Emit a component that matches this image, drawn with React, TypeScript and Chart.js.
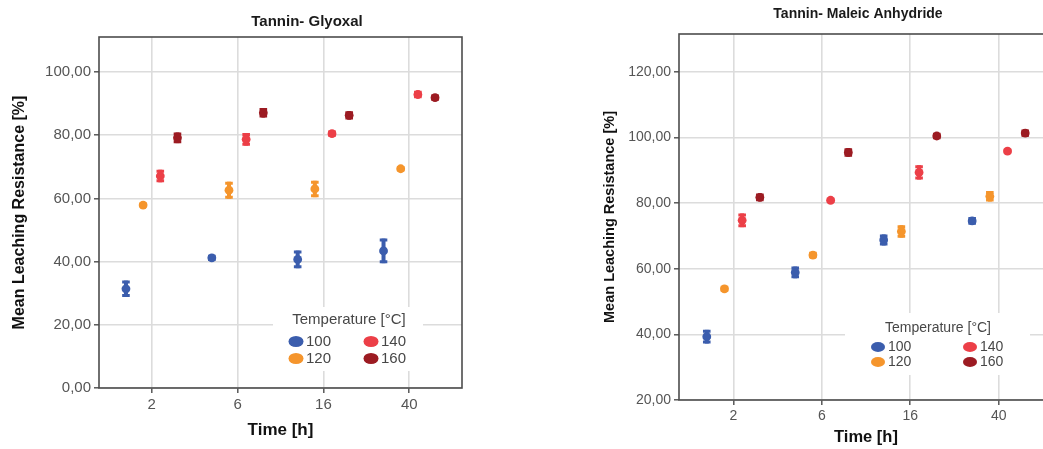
import { useEffect, useRef } from 'react';
import { Chart, registerables } from 'chart.js';
Chart.register(...registerables);

// ---------- data ----------
const timeLabels = ['2', '6', '16', '40'];
const temperatureLabels = ['100', '120', '140', '160'];
const seriesColors = ['#3b5dad', '#f5952c', '#ec3f47', '#9c1b22'];

// Tannin- Glyoxal: mean leaching resistance [%] per time, per temperature
const glyoxal100 = [31.4, 41.2, 40.7, 43.4];
const glyoxal120 = [57.9, 62.6, 63.0, 69.4];
const glyoxal140 = [67.1, 78.7, 80.5, 92.9];
const glyoxal160 = [79.2, 87.1, 86.3, 91.9];
const glyoxal100Err = [2.6, 1.0, 2.8, 3.9];
const glyoxal120Err = [0.8, 2.7, 2.6, 0.9];
const glyoxal140Err = [2.0, 2.0, 1.0, 1.2];
const glyoxal160Err = [1.7, 1.5, 1.3, 1.0];
const glyoxalYTicks = [0, 20, 40, 60, 80, 100];

// Tannin- Maleic Anhydride
const maleic100 = [39.3, 58.9, 68.8, 74.6];
const maleic120 = [53.9, 64.2, 71.4, 82.1];
const maleic140 = [74.8, 80.9, 89.4, 95.9];
const maleic160 = [81.8, 95.5, 100.5, 101.4];
const maleic100Err = [2.1, 1.8, 1.7, 1.2];
const maleic120Err = [0.9, 1.0, 1.9, 1.6];
const maleic140Err = [2.1, 0.8, 2.2, 0.8];
const maleic160Err = [1.2, 1.3, 1.0, 1.1];
const maleicYTicks = [20, 40, 60, 80, 100, 120];

const FONT = "'Liberation Sans', Arial, Helvetica, sans-serif";
const dodge = [-0.3, -0.1, 0.1, 0.3];

const fmt = (v: number) => v.toFixed(2).replace('.', ',');

function makeDatasets(means: number[][], errs: number[][]) {
  return means.map((m, s) => ({
    label: temperatureLabels[s],
    data: m.map((v, i) => ({ x: i + 1 + dodge[s], y: v })),
    errors: errs[s],
    backgroundColor: seriesColors[s],
    borderColor: seriesColors[s],
    pointRadius: 4.4,
    pointHoverRadius: 4.4,
    pointBorderWidth: 0,
    showLine: false,
  }));
}

type Panel = {
  width: number;
  left: number;
  means: number[][];
  errs: number[][];
  yMin: number;
  yMax: number;
  yTicks: number[];
  pad: { top: number; right: number };
  yAxisWidth: number;
  xAxisHeight: number;
  tickFont: number;
  yTitleFont: number;
  yTitlePad: number;
  xTitleFont: number;
  xTitlePad: number;
  title: string;
  titleX: number;
  titleY: number;
  titleFont: number;
  legend: {
    box: [number, number, number, number];
    titleX: number;
    titleY: number;
    rows: [number, number];
    markerX: [number, number];
    textX: [number, number];
    font: number;
    mw: number;
    mh: number;
  };
};

function makePanelPlugin(p: Panel) {
  return {
    id: 'panelDecor',
    beforeDatasetsDraw(chart: any) {
      const { ctx, chartArea } = chart;
      ctx.save();
      // legend background hides grid
      const [bx0, by0, bx1, by1] = p.legend.box;
      ctx.fillStyle = '#ffffff';
      ctx.fillRect(bx0, by0, bx1 - bx0, by1 - by0);
      // frame
      ctx.strokeStyle = '#4d4d4d';
      ctx.lineWidth = 1.6;
      ctx.strokeRect(chartArea.left, chartArea.top, chartArea.right - chartArea.left, chartArea.bottom - chartArea.top);
      // error bars
      const yScale = chart.scales.y;
      chart.data.datasets.forEach((ds: any, di: number) => {
        const meta = chart.getDatasetMeta(di);
        meta.data.forEach((pt: any, i: number) => {
          const v = ds.data[i].y;
          const e = ds.errors[i];
          const yt = yScale.getPixelForValue(v + e);
          const yb = yScale.getPixelForValue(v - e);
          ctx.strokeStyle = ds.borderColor;
          ctx.lineWidth = 4;
          ctx.beginPath();
          ctx.moveTo(pt.x, yt);
          ctx.lineTo(pt.x, yb);
          ctx.stroke();
          ctx.lineWidth = 3;
          ctx.beginPath();
          ctx.moveTo(pt.x - 3.8, yt + 1.5);
          ctx.lineTo(pt.x + 3.8, yt + 1.5);
          ctx.moveTo(pt.x - 3.8, yb - 1.5);
          ctx.lineTo(pt.x + 3.8, yb - 1.5);
          ctx.stroke();
        });
      });
      ctx.restore();
    },
    afterDraw(chart: any) {
      const { ctx } = chart;
      ctx.save();
      // chart title
      ctx.fillStyle = '#1a1a1a';
      ctx.font = `bold ${p.titleFont}px ${FONT}`;
      ctx.textAlign = 'center';
      ctx.textBaseline = 'middle';
      ctx.fillText(p.title, p.titleX, p.titleY);
      // legend
      const L = p.legend;
      ctx.fillStyle = '#474747';
      ctx.font = `${L.font}px ${FONT}`;
      ctx.fillText('Temperature [°C]', L.titleX, L.titleY);
      temperatureLabels.forEach((lab, s) => {
        const col = s < 2 ? 0 : 1;
        const row = s % 2;
        ctx.fillStyle = seriesColors[s];
        ctx.beginPath();
        ctx.ellipse(L.markerX[col], L.rows[row], L.mw / 2, L.mh / 2, 0, 0, Math.PI * 2);
        ctx.fill();
        ctx.fillStyle = '#474747';
        ctx.textAlign = 'left';
        ctx.fillText(lab, L.textX[col], L.rows[row] + 0.5);
      });
      ctx.restore();
    },
  };
}

function PanelChart({ p }: { p: Panel }) {
  const ref = useRef<HTMLCanvasElement | null>(null);
  useEffect(() => {
    if (!ref.current) return;
    const chart = new Chart(ref.current, {
      type: 'scatter',
      data: { datasets: makeDatasets(p.means, p.errs) as any },
      plugins: [makePanelPlugin(p)],
      options: {
        animation: false,
        responsive: false,
        events: [],
        layout: { padding: { top: p.pad.top, right: p.pad.right, left: 0, bottom: 0 } },
        plugins: { legend: { display: false }, tooltip: { enabled: false }, title: { display: false } },
        scales: {
          x: {
            type: 'linear',
            min: 0.386,
            max: 4.614,
            afterBuildTicks: (s: any) => {
              s.ticks = timeLabels.map((_, i) => ({ value: i + 1 }));
            },
            afterFit: (s: any) => {
              s.height = p.xAxisHeight;
            },
            ticks: {
              callback: (v: any) => timeLabels[Math.round(Number(v)) - 1] ?? '',
              color: '#555555',
              font: { family: FONT, size: p.tickFont },
              padding: 3,
              maxRotation: 0,
            },
            grid: { color: '#dcdcdc', lineWidth: 1.6, tickColor: '#4d4d4d', tickLength: 5, tickWidth: 1.4 },
            border: { display: false },
            title: {
              display: true,
              text: 'Time [h]',
              color: '#111111',
              font: { family: FONT, size: p.xTitleFont, weight: 'bold' },
              padding: { top: 0, bottom: p.xTitlePad },
            },
          },
          y: {
            type: 'linear',
            min: p.yMin,
            max: p.yMax,
            afterBuildTicks: (s: any) => {
              s.ticks = p.yTicks.map((v) => ({ value: v }));
            },
            afterFit: (s: any) => {
              s.width = p.yAxisWidth;
            },
            ticks: {
              callback: (v: any) => fmt(Number(v)),
              color: '#555555',
              font: { family: FONT, size: p.tickFont },
              padding: 3,
            },
            grid: { color: '#dcdcdc', lineWidth: 1.6, tickColor: '#4d4d4d', tickLength: 5, tickWidth: 1.4 },
            border: { display: false },
            title: {
              display: true,
              text: 'Mean Leaching Resistance [%]',
              color: '#111111',
              font: { family: FONT, size: p.yTitleFont, weight: 'bold' },
              padding: { top: p.yTitlePad, bottom: 0 },
            },
          },
        },
      } as any,
    });
    return () => chart.destroy();
  }, [p]);
  return (
    <canvas
      ref={ref}
      width={p.width}
      height={449}
      style={{ position: 'absolute', left: p.left, top: 0, width: p.width, height: 449 }}
    />
  );
}

const glyoxalPanel: Panel = {
  width: 520,
  left: 0,
  means: [glyoxal100, glyoxal120, glyoxal140, glyoxal160],
  errs: [glyoxal100Err, glyoxal120Err, glyoxal140Err, glyoxal160Err],
  yMin: 0,
  yMax: 111.1,
  yTicks: glyoxalYTicks,
  pad: { top: 37, right: 58 },
  yAxisWidth: 99,
  xAxisHeight: 61,
  tickFont: 15,
  yTitleFont: 16,
  yTitlePad: 10.4,
  xTitleFont: 17,
  xTitlePad: 8.8,
  title: 'Tannin- Glyoxal',
  titleX: 307,
  titleY: 22,
  titleFont: 15,
  legend: {
    box: [273, 307, 423, 371],
    titleX: 349,
    titleY: 320,
    rows: [341.5, 358.5],
    markerX: [296, 371],
    textX: [306, 381],
    font: 15,
    mw: 15,
    mh: 11,
  },
};

const maleicPanel: Panel = {
  width: 540,
  left: 560,
  means: [maleic100, maleic120, maleic140, maleic160],
  errs: [maleic100Err, maleic120Err, maleic140Err, maleic160Err],
  yMin: 20,
  yMax: 131.6,
  yTicks: maleicYTicks,
  pad: { top: 34, right: 47 },
  yAxisWidth: 119,
  xAxisHeight: 49,
  tickFont: 14,
  yTitleFont: 14.5,
  yTitlePad: 41,
  xTitleFont: 16.5,
  xTitlePad: 2,
  title: 'Tannin- Maleic Anhydride',
  titleX: 298,
  titleY: 14.5,
  titleFont: 14,
  legend: {
    box: [285, 313, 470, 375],
    titleX: 378,
    titleY: 328,
    rows: [347, 362],
    markerX: [318, 410],
    textX: [328, 420],
    font: 14,
    mw: 14,
    mh: 10,
  },
};

export default function App() {
  return (
    <div
      style={{
        position: 'fixed',
        left: 0,
        top: 0,
        width: 1043,
        height: 449,
        overflow: 'hidden',
        background: '#ffffff',
      }}
    >
      <PanelChart p={glyoxalPanel} />
      <PanelChart p={maleicPanel} />
    </div>
  );
}
